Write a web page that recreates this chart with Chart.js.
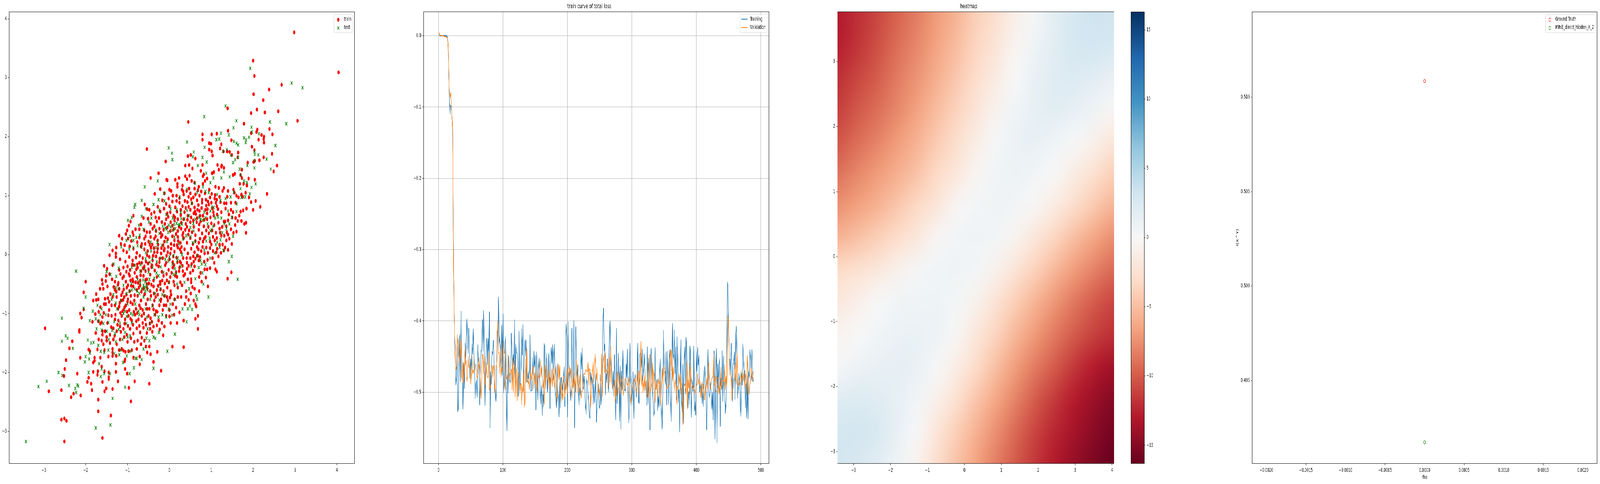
<!DOCTYPE html>
<html lang="en">

<head>
    <meta charset="utf-8" />
    <script src="https://cdn.jsdelivr.net/npm/chart.js@4.4.1/dist/chart.umd.js"></script>
    <style>
        html, body { margin: 0; background: #fff; overflow: hidden; }
        #sheet { position: absolute; left: 0; top: 0; width: 7028px; height: 1238px; transform-origin: 0 0; }
        canvas { position: absolute; top: 0; }
    </style>
</head>

<body>
    <div id="sheet">
        <canvas id="scatterChart"></canvas>
        <canvas id="lossChart"></canvas>
        <canvas id="heatChart"></canvas>
        <canvas id="colorbarChart"></canvas>
        <canvas id="miChart"></canvas>
    </div>

    <script>
        // scatter panel
        const trainPoints = [
            [2.98,3.77],[4.04,3.09],[2.0,3.29],[2.03,3.03],[2.68,2.88],[2.38,2.8],[2.01,2.72],[2.24,2.62],[1.39,2.48],[2.09,2.46],[1.95,2.4],[2.28,2.41],[2.6,2.43],[3.06,2.27],[0.45,2.25],[1.78,2.22],
            [2.39,2.13],[2.1,2.12],[1.4,2.1],[1.95,2.06],[2.08,2.08],[2.2,2.03],[2.26,2.0],[2.46,2.04],[1.13,2.05],[1.01,2.04],[0.79,2.04],[0.79,1.95],[2.13,1.95],[2.25,1.96],[1.48,1.94],[0.95,1.89],
            [0.99,1.88],[1.24,1.87],[2.26,1.9],[1.97,1.83],[-0.54,1.79],[1.21,1.8],[0.95,1.78],[2.03,1.77],[1.01,1.75],[1.29,1.75],[1.38,1.75],[1.64,1.73],[1.44,1.74],[2.45,1.71],[0.51,1.69],[0.44,1.67],
            [1.03,1.68],[1.49,1.69],[1.63,1.65],[2.25,1.65],[2.04,1.59],[2.01,1.57],[2.15,1.6],[-0.09,1.58],[1.87,1.56],[0.62,1.63],[2.57,1.51],[2.49,1.41],[0.79,1.52],[0.38,1.51],[0.47,1.52],[1.15,1.52],
            [1.25,1.51],[-0.45,1.3],[-0.26,1.38],[-0.07,1.27],[0.14,1.27],[0.23,1.3],[2.33,1.03],[2.06,0.91],[1.95,0.89],[2.0,0.76],[2.17,0.81],[1.84,0.78],[2.04,1.27],[1.89,1.29],[0.75,1.42],[1.02,1.38],
            [0.38,1.33],[0.42,1.28],[1.06,1.4],[1.18,1.44],[1.3,1.47],[1.24,1.49],[0.31,1.17],[0.53,1.25],[0.6,1.22],[0.8,1.33],[0.85,1.25],[1.52,1.35],[1.56,1.37],[1.7,1.35],[1.73,1.44],[1.73,1.3],
            [0.55,1.46],[0.82,1.36],[0.48,1.34],[0.9,1.29],[-0.05,1.26],[0.19,1.2],[0.19,1.15],[0.3,1.1],[0.41,1.08],[0.47,1.12],[0.6,1.12],[0.7,1.15],[0.8,1.2],[0.95,1.1],[1.1,1.15],[1.18,1.13],
            [1.3,1.13],[1.4,1.08],[1.53,1.1],[1.6,1.0],[1.75,0.98],[1.82,1.05],[1.85,1.17],[1.77,1.2],[1.68,1.2],[0.0,1.1],[0.04,1.08],[-0.22,1.11],[-0.12,1.04],[0.08,1.0],[0.17,1.0],[0.24,0.96],
            [0.34,1.02],[0.46,0.98],[0.5,1.04],[0.52,0.94],[0.62,1.02],[0.72,1.0],[0.66,0.92],[0.78,0.93],[0.85,1.04],[0.92,0.9],[1.0,0.88],[1.08,0.95],[1.2,0.98],[1.27,1.08],[1.38,0.98],[1.47,0.88],
            [1.55,1.05],[1.65,0.97],[1.72,1.02],[1.9,0.97],[-0.02,0.95],[-0.08,0.86],[0.0,0.82],[0.07,0.9],[0.14,0.8],[0.24,0.88],[0.31,0.82],[0.39,0.79],[0.46,0.81],[0.54,0.87],[0.6,0.8],[0.69,0.84],
            [0.78,0.88],[0.86,0.76],[0.94,0.85],[1.03,0.78],[1.13,0.82],[1.22,0.89],[1.34,0.78],[1.42,0.68],[1.52,0.72],[1.58,0.88],[1.7,0.73],[1.76,0.75],[-0.22,0.73],[-0.13,0.78],[-0.05,0.7],[0.02,0.72],
            [0.1,0.66],[0.18,0.73],[0.27,0.67],[0.36,0.72],[0.44,0.66],[0.5,0.76],[0.58,0.7],[0.66,0.62],[0.72,0.74],[0.8,0.66],[0.9,0.7],[0.98,0.63],[1.05,0.72],[1.14,0.68],[1.24,0.72],[1.33,0.56],
            [1.4,0.58],[1.5,0.63],[1.58,0.62],[1.6,0.39],[1.72,0.57],[1.79,0.52],[1.83,0.54],[1.83,0.37],[1.57,0.5],[-0.53,0.77],[-0.3,0.56],[-0.25,0.62],[-0.18,0.55],[-0.08,0.6],[0.03,0.55],[0.12,0.58],
            [0.2,0.6],[0.28,0.54],[0.34,0.6],[0.42,0.47],[0.5,0.55],[0.58,0.47],[0.65,0.55],[0.74,0.56],[0.82,0.48],[0.9,0.6],[1.0,0.53],[1.07,0.5],[1.17,0.54],[1.2,0.44],[1.3,0.56],[1.36,0.48],
            [-0.86,0.66],[-0.59,0.85],[-0.35,1.03],[-0.97,0.49],[-1.04,0.35],[-1.01,0.41],[-0.72,0.43],[-0.6,0.41],[-0.54,0.38],[-0.45,0.52],[-0.4,0.44],[-0.32,0.4],[-0.24,0.44],[-0.14,0.42],[-0.05,0.46],[0.02,0.4],
            [0.1,0.43],[0.2,0.4],[0.28,0.44],[0.38,0.42],[0.45,0.34],[0.54,0.38],[0.62,0.33],[0.7,0.42],[0.78,0.36],[0.86,0.3],[0.94,0.36],[1.04,0.3],[1.13,0.28],[1.24,0.32],[1.31,0.32],[1.36,0.24],
            [1.4,0.34],[1.49,0.18],[-1.2,0.32],[-0.86,0.33],[-0.72,0.29],[-0.6,0.27],[-0.5,0.22],[-0.45,0.3],[-0.36,0.27],[-0.28,0.24],[-0.2,0.3],[-0.12,0.22],[-0.04,0.26],[0.04,0.18],[0.12,0.24],[0.2,0.3],
            [0.26,0.2],[0.34,0.28],[0.42,0.2],[0.5,0.28],[0.56,0.18],[0.62,0.23],[0.7,0.2],[0.8,0.22],[0.88,0.12],[1.0,0.17],[1.14,0.1],[1.2,0.17],[1.3,0.07],[1.4,0.08],[-1.07,0.16],[-1.16,0.18],
            [-1.28,0.02],[-1.28,-0.04],[-1.43,-0.01],[-1.1,0.07],[-1.02,0.04],[-0.95,0.14],[-0.86,0.1],[-0.78,0.03],[-0.68,0.14],[-0.6,0.09],[-0.52,0.06],[-0.44,0.12],[-0.36,0.04],[-0.28,0.1],[-0.2,0.02],[-0.12,0.1],
            [-0.04,0.04],[0.04,0.1],[0.12,0.05],[0.2,0.12],[0.28,0.04],[0.36,0.09],[0.44,0.02],[0.52,0.1],[0.6,0.04],[0.68,-0.02],[0.76,0.06],[0.84,0.02],[0.92,0.03],[1.04,0.06],[1.12,0.04],[-1.56,-0.19],
            [-1.49,-0.24],[-1.43,-0.33],[-1.18,-0.08],[-1.05,-0.12],[-0.96,-0.04],[-0.88,-0.1],[-0.8,-0.05],[-0.72,-0.14],[-0.64,-0.06],[-0.56,-0.12],[-0.48,-0.04],[-0.4,-0.1],[-0.32,-0.03],[-0.24,-0.13],[-0.16,-0.06],[-0.08,-0.14],
            [0.0,-0.08],[0.08,-0.13],[0.17,-0.05],[0.25,-0.12],[0.33,-0.06],[0.42,-0.14],[0.5,-0.06],[0.58,-0.12],[0.66,-0.02],[0.7,-0.1],[1.1,-0.25],[1.13,-0.29],[0.84,-0.25],[0.9,-0.25],[0.56,-0.27],[0.74,-0.31],
            [-1.2,-0.26],[-1.1,-0.22],[-1.0,-0.2],[-0.94,-0.26],[-0.85,-0.18],[-0.76,-0.22],[-0.68,-0.28],[-0.6,-0.2],[-0.5,-0.25],[-0.42,-0.18],[-0.35,-0.27],[-0.26,-0.2],[-0.18,-0.29],[-0.1,-0.18],[-0.02,-0.26],[0.08,-0.22],
            [0.16,-0.3],[0.24,-0.22],[0.32,-0.28],[0.42,-0.24],[0.5,-0.31],[0.6,-0.2],[-2.0,-0.46],[-1.37,-0.42],[-1.3,-0.46],[-1.22,-0.48],[-1.12,-0.4],[-1.04,-0.46],[-0.95,-0.36],[-0.88,-0.42],[-0.78,-0.38],[-0.7,-0.44],
            [-0.62,-0.36],[-0.54,-0.42],[-0.46,-0.34],[-0.38,-0.44],[-0.3,-0.38],[-0.22,-0.46],[-0.14,-0.36],[-0.06,-0.44],[0.02,-0.38],[0.1,-0.46],[0.18,-0.38],[0.26,-0.47],[0.34,-0.36],[0.44,-0.42],[0.52,-0.42],[0.92,-0.54],
            [0.87,-0.39],[1.39,-0.41],[1.48,-0.3],[0.55,-0.55],[0.6,-0.58],[0.4,-0.62],[-1.6,-0.5],[-1.52,-0.45],[-1.48,-0.54],[-1.58,-0.58],[-1.3,-0.6],[-1.2,-0.58],[-1.12,-0.64],[-1.02,-0.56],[-0.95,-0.62],[-0.86,-0.54],
            [-0.78,-0.6],[-0.7,-0.52],[-0.62,-0.58],[-0.54,-0.5],[-0.46,-0.62],[-0.38,-0.54],[-0.3,-0.6],[-0.22,-0.5],[-0.14,-0.62],[-0.05,-0.56],[0.03,-0.62],[0.12,-0.52],[0.2,-0.56],[0.3,-0.52],[-2.05,-0.64],[-1.75,-0.67],
            [-1.75,-0.77],[-1.7,-0.76],[-1.82,-0.78],[-1.54,-0.75],[-1.44,-0.8],[-1.36,-0.72],[-1.26,-0.72],[-1.16,-0.78],[-1.08,-0.72],[-1.0,-0.8],[-0.92,-0.7],[-0.84,-0.78],[-0.76,-0.7],[-0.68,-0.78],[-0.6,-0.68],[-0.52,-0.76],
            [-0.44,-0.7],[-0.36,-0.78],[-0.28,-0.68],[-0.2,-0.76],[-0.12,-0.7],[-0.04,-0.78],[0.04,-0.68],[0.12,-0.76],[0.2,-0.72],[0.28,-0.72],[0.4,-0.72],[0.58,-0.78],[0.62,-0.84],[0.64,-0.88],[-2.05,-0.93],[-1.65,-0.89],
            [-1.56,-0.84],[-1.52,-0.84],[-1.44,-0.94],[-1.3,-0.86],[-1.2,-0.88],[-1.12,-0.96],[-1.04,-0.86],[-0.96,-0.94],[-0.88,-0.84],[-0.8,-0.92],[-0.72,-0.86],[-0.64,-0.94],[-0.56,-0.84],[-0.48,-0.92],[-0.4,-0.86],[-0.32,-0.96],
            [-0.24,-0.86],[-0.16,-0.94],[-0.08,-0.86],[0.0,-0.94],[0.08,-0.84],[0.16,-0.9],[-2.13,-1.0],[-2.1,-1.07],[-1.6,-1.06],[-1.62,-1.15],[-1.7,-1.13],[-1.65,-1.17],[-1.48,-1.16],[-1.38,-1.04],[-1.3,-1.1],[-1.22,-1.12],
            [-1.14,-1.04],[-1.06,-1.1],[-0.98,-1.04],[-0.9,-1.12],[-0.82,-1.02],[-0.74,-1.1],[-0.66,-1.04],[-0.58,-1.1],[-0.5,-1.04],[-0.42,-1.14],[-0.34,-1.02],[-0.26,-1.12],[-0.18,-1.16],[-0.08,-1.04],[0.0,-1.05],[0.03,-1.16],
            [0.18,-1.16],[0.34,-1.12],[0.68,-1.04],[0.62,-1.09],[0.68,-1.26],[-2.15,-1.28],[-2.15,-1.31],[-1.6,-1.3],[-1.6,-1.36],[-1.54,-1.3],[-1.5,-1.4],[-1.42,-1.36],[-1.34,-1.25],[-1.26,-1.3],[-1.18,-1.22],[-1.1,-1.26],
            [-1.02,-1.36],[-0.94,-1.26],[-0.86,-1.34],[-0.78,-1.25],[-0.7,-1.32],[-0.62,-1.24],[-0.54,-1.33],[-0.46,-1.26],[-0.38,-1.22],[-0.3,-1.2],[-0.15,-1.37],[-1.62,-1.46],[-1.58,-1.52],[-1.5,-1.46],[-1.42,-1.5],[-1.34,-1.44],
            [-1.26,-1.52],[-1.18,-1.44],[-1.08,-1.4],[-1.0,-1.48],[-0.92,-1.42],[-0.84,-1.48],[-0.76,-1.46],[-0.68,-1.52],[-0.6,-1.46],[-1.93,-1.61],[-1.9,-1.64],[-1.55,-1.62],[-1.36,-1.6],[-1.36,-1.66],[-1.36,-1.72],[-1.2,-1.62],
            [-1.14,-1.6],[-1.1,-1.63],[-1.05,-1.65],[-0.98,-1.64],[-0.9,-1.62],[-0.78,-1.6],[-0.56,-1.56],[-0.48,-1.56],[-0.53,-1.66],[-0.45,-1.69],[-0.29,-1.65],[-0.71,-1.73],[0.07,-1.56],[0.34,-1.57],[-2.97,-1.25],[-2.88,-2.32],
            [-2.58,-2.3],[-2.58,-2.8],[-2.51,-2.78],[-2.46,-2.82],[-2.51,-3.17],[-2.35,-2.42],[-2.29,-2.36],[-2.12,-2.39],[-2.52,-2.06],[-2.5,-1.94],[-2.47,-1.79],[-2.39,-1.59],[-2.32,-1.47],[-2.2,-2.02],[-2.13,-1.75],[-1.96,-2.16],
            [-1.93,-2.09],[-1.87,-2.19],[-1.85,-2.3],[-1.7,-2.46],[-1.7,-2.66],[-1.4,-2.73],[-1.6,-3.11],[-0.92,-2.49],[-0.48,-2.19],[-0.2,-1.97],[-0.83,-2.15],[-0.97,-2.26],[-1.23,-2.15],[-1.36,-2.28],[-1.55,-2.32],[-1.51,-2.27],
            [-1.6,-2.16],[-1.45,-2.11],[-1.45,-2.08],[-1.45,-2.0],[-1.55,-1.98],[-1.72,-2.04],[-1.71,-1.98],[-1.82,-1.99],[-1.62,-1.9],[-1.82,-1.83],[-1.79,-1.75],[-1.79,-1.8],[-1.65,-1.75],[-1.28,-1.85],[-1.28,-1.99],[-1.06,-1.94],
            [-1.01,-2.02],[-1.06,-1.78],[-1.07,-1.81],[-0.71,-1.86],[-0.86,-1.75],[-0.38,-1.82],
            // denser middle of the cloud
            [-0.13,0.07],[0.07,0.31],[0.33,0.37],[0.52,0.63],[0.71,0.51],[0.91,0.77],[0.23,0.47],[-0.31,-0.17],[-0.57,-0.43],[-0.83,-0.69],[-0.93,-0.81],[-1.07,-0.89],[-0.41,0.17],[-0.17,0.33],[0.13,0.63],[0.37,0.91],
            [0.63,0.69],[0.87,0.93],[1.09,1.01],[0.29,0.13],[0.47,0.41],[0.77,0.79],[0.11,0.16],[0.16,0.35],[0.21,0.23],[0.31,0.33],[0.39,0.52],[0.43,0.59],[0.57,0.58],[0.61,0.73],[0.67,0.76],[0.73,0.66],
            [0.83,0.59],[0.88,0.83],[0.97,0.97],[1.11,0.88],[-0.03,0.13],[-0.09,0.29],[-0.19,0.11],[-0.27,0.17],[-0.33,0.31],[-0.39,-0.02],[-0.47,0.17],[-0.53,-0.01],[-0.58,0.18],[-0.66,-0.14],[-0.71,-0.02],[-0.77,-0.17],
            [-0.83,-0.31],[-0.89,-0.17],[-0.97,-0.33],[-1.03,-0.29],[-1.09,-0.37],[-1.17,-0.33],[-1.23,-0.51],[-1.27,-0.63],[-1.33,-0.55],[-1.41,-0.67],[-1.47,-0.74],[-1.38,-0.86],[-1.11,-0.77],[-1.03,-0.68],[-0.99,-0.76],[-0.91,-0.53],
            [-0.81,-0.47],[-0.73,-0.56],[-0.67,-0.63],[-0.59,-0.67],[-0.53,-0.57],[-0.49,-0.49],[-0.43,-0.51],[-0.37,-0.66],[-0.33,-0.72],[-0.27,-0.53],[-0.21,-0.59],[-0.17,-0.44],[-0.11,-0.49],[-0.07,-0.33],[-0.01,-0.47],[0.05,-0.31],
            [0.11,-0.18],[0.14,-0.36],[0.19,-0.13],[0.23,-0.28],[0.27,-0.14],[0.31,-0.19],[0.37,-0.33],[0.41,-0.06],[0.46,-0.19],[0.53,-0.16],[0.57,-0.03],[0.62,-0.07],[0.69,0.09],[0.73,-0.04],[0.79,0.13],[0.83,0.27],
            [0.88,0.41],[0.93,0.47],[0.97,0.11],[1.02,0.41],[1.06,0.66],[1.11,0.37],[1.16,0.77],[1.26,0.47],[0.18,0.16],[0.25,0.09],[0.09,-0.03],[0.02,0.02],[-0.07,-0.02],[-0.15,0.16],[-0.23,-0.07],[-0.29,0.04],
            [-0.37,0.11],[-0.43,-0.21],[-0.51,-0.15],[-0.57,-0.28],[-0.63,-0.23],[-0.69,-0.35],[-0.75,-0.48],[-0.79,-0.25],[-0.87,-0.46],[-0.93,-0.44],[-0.99,-0.52],[-1.09,-0.59],[-1.15,-0.69],[-1.19,-0.82],[-1.23,-0.92],[-1.29,-1.02],
            [-1.17,-0.99],[-1.09,-0.93],[-1.01,-0.97],[-0.93,-1.09],[-0.85,-0.97],[-0.77,-0.99],[-0.69,-0.91],[-0.61,-1.0],[-0.53,-0.92],[-0.45,-1.08],[-0.38,-0.93],[-0.29,-0.97],[-0.21,-0.79],[-0.13,-0.86],[-0.06,-0.72],[0.01,-0.73],
            [-0.99,-1.21],[-1.07,-1.17],[-1.16,-1.31],[-1.24,-1.19],[-1.31,-1.38],[-1.39,-1.23],[-0.87,-1.19],[-0.79,-1.13],[-0.72,-1.21],[-0.64,-1.16],[-0.56,-1.19],[-0.47,-1.17],[0.17,0.91],[0.27,0.76],[0.33,1.07],[0.43,0.89],
            [0.57,0.97],[0.68,1.09],[0.76,1.07],[1.01,1.03],[1.13,0.93],[1.31,0.87],[0.07,0.49],[-0.03,0.64],[-0.11,0.52],[-0.21,0.37],[-0.36,0.48],[-0.47,0.38],[-0.57,0.31],[-0.66,0.18],[-0.77,0.21],[-0.91,0.23],
            // both flanks of the cloud
            [0.52,-0.47],[0.71,-0.38],[0.77,-0.46],[0.83,-0.12],[0.91,-0.09],[0.97,-0.23],[1.03,-0.06],[1.07,-0.14],[1.17,-0.03],[1.23,0.03],[1.27,0.17],[1.33,0.12],[1.37,0.38],[1.43,0.27],[1.47,0.43],[1.53,0.37],
            [1.63,0.57],[1.67,0.66],[1.47,0.76],[1.36,0.87],[1.21,0.37],[0.73,0.27],[0.97,0.22],[0.66,0.13],[1.08,0.24],[-1.13,0.27],[-1.27,0.12],[-1.36,0.07],[-0.99,0.27],[-0.88,0.38],[-0.81,0.43],[-0.93,0.56],
            [-0.68,0.51],[-0.62,0.62],[-0.51,0.61],[-0.43,0.69],[-0.36,0.72],[-0.28,0.81],[-0.17,0.92],[-0.33,0.63],[-0.48,0.76],[-1.51,-0.36],[-1.36,-0.18],[-1.61,-0.43],[-1.66,-0.58],[-1.69,-0.97],[-1.77,-1.01],[-1.46,-1.03],
            [-1.57,-0.99],[-1.84,-1.14],[-1.76,-1.33],[-1.69,-1.44],[-1.72,-1.61],[-1.46,-1.73],[-1.27,-1.72],[-0.66,-1.41],[-0.41,-1.31],[-0.23,-1.27],[-0.12,-1.22],[0.11,-1.02],[0.24,-0.98],[0.37,-0.84],[0.46,-0.77],[0.51,-0.66],[0.71,-0.62]
        ];
        const testPoints = [
            [-3.43,-3.17],[-3.13,-2.24],[-2.93,-2.15],[-2.65,-2.0],[-2.56,-2.05],[-2.4,-2.22],[-2.25,-2.27],[-2.23,-2.34],[-2.2,-2.21],[-2.18,-2.23],[-2.57,-1.08],[-2.48,-1.38],[-2.43,-1.42],[-2.57,-1.47],[-2.31,-1.59],[-2.23,-0.28],
            [-2.05,-0.91],[-2.0,-0.72],[-1.9,-1.12],[-1.95,-1.45],[-1.87,-1.5],[-1.81,-1.49],[-2.0,-1.73],[-1.92,-1.77],[-2.02,-1.82],[-1.9,-1.67],[-1.93,-2.0],[-1.76,-2.94],[-1.41,-2.89],[-1.36,-2.44],[-1.06,-2.25],[-0.95,-2.02],
            [-1.42,-2.02],[-1.64,-2.07],[-1.56,-2.02],[-1.62,-1.94],[-1.68,-1.85],[-0.85,-1.92],[-0.81,-1.76],[-0.38,-1.93],[-0.05,-1.64],[0.13,-1.35],[0.41,-1.14],[1.93,3.16],[2.92,2.91],[3.18,2.83],[1.34,2.52],[0.83,2.34],
            [1.6,2.27],[2.4,2.25],[2.79,2.22],[1.53,2.15],[1.96,2.16],[1.97,2.08],[1.23,2.06],[2.14,2.05],[1.42,2.03],[1.78,1.98],[1.83,1.95],[1.9,1.99],[1.12,1.95],[1.19,1.96],[1.82,1.9],[2.53,1.85],
            [1.54,1.92],[1.6,1.89],[1.64,1.86],[0.42,1.91],[-0.02,1.81],[0.06,1.72],[0.07,1.61],[0.58,1.74],[0.84,1.82],[2.03,1.75],[2.04,1.7],[2.12,1.69],[2.32,1.62],[2.03,1.59],[2.03,1.47],[2.42,1.45],
            [2.06,1.2],[1.96,1.14],[1.86,1.51],[1.68,1.45],[1.64,1.65],[1.57,1.61],[1.52,1.56],[1.47,1.68],[1.28,1.75],[1.37,1.78],[0.79,1.65],[0.56,1.66],[0.89,1.57],[0.68,1.51],[-0.59,1.15],[-0.28,1.25],
            [-0.38,0.85],[-0.82,0.85],[-0.84,0.8],[-0.66,0.92],[-0.66,0.65],[-0.9,0.63],[-0.99,0.58],[-0.56,0.78],[-0.73,0.5],[-0.79,0.29],[-1.43,0.17],[-1.21,-0.23],[-1.5,-0.29],[-1.15,0.13],[-0.13,1.04],[-0.26,0.93],
            [1.63,-0.42],[1.42,-0.12],[1.49,-0.03],[1.29,0.07],[1.52,0.31],[0.93,-0.72],[0.81,-0.5],[0.64,-0.7],[0.66,-0.76],[0.49,-0.87],[0.54,-0.93],[0.44,-0.92],[0.31,-0.92],[1.49,0.63],[1.4,0.74],[1.24,1.3],
            [1.3,1.4],[1.05,1.3],[0.98,1.22],[0.88,1.38],[0.8,1.15],[0.66,1.05],[0.94,1.05],[1.14,1.02],[1.22,0.92],[1.06,0.8],[0.98,0.74],[1.16,0.64],[1.24,0.62],[1.34,0.95],[1.46,0.98],[1.54,1.06],
            [1.7,1.12],[1.78,1.25],[1.85,1.22],[1.7,1.35],[1.44,1.32],[0.53,0.87],[0.42,0.75],[0.27,0.72],[0.17,0.76],[0.08,0.62],[-0.08,0.68],[-0.24,0.76],[-0.1,0.45],[-0.16,0.48],[-0.24,0.36],[-0.02,0.5],
            [0.14,0.44],[0.22,0.5],[0.3,0.52],[0.4,0.32],[0.5,0.46],[0.58,0.4],[0.62,0.6],[0.74,0.6],[0.83,0.72],[0.98,0.4],[1.0,0.42],[0.96,0.28],[1.04,0.48],[1.22,0.25],[1.2,0.12],[1.08,0.03],
            [0.56,0.2],[0.62,0.22],[0.66,-0.02],[0.74,-0.1],[0.7,-0.22],[0.5,0.3],[0.32,0.26],[0.22,0.18],[0.12,0.3],[-0.06,0.22],[-0.18,0.16],[-0.32,0.12],[-0.44,0.06],[-0.56,0.03],[-0.66,0.12],[-0.76,0.15],
            [-0.86,0.12],[-0.96,0.09],[-0.82,-0.18],[-0.9,-0.22],[-0.7,-0.28],[-0.6,-0.25],[-0.5,-0.3],[-0.4,-0.22],[-0.3,-0.12],[-0.2,-0.06],[-0.1,-0.08],[0.0,-0.04],[0.1,-0.02],[0.2,-0.06],[0.3,0.0],[0.26,-0.2],
            [0.16,-0.32],[0.1,-0.34],[-0.14,-0.3],[-0.26,-0.36],[-0.36,-0.4],[-0.48,-0.42],[-0.58,-0.46],[-0.62,-0.52],[-0.56,-0.55],[-0.52,-0.6],[-0.6,-0.56],[-0.7,-0.48],[-0.76,-0.42],[-0.9,-0.6],[-0.96,-0.62],[-1.02,-0.66],
            [-1.1,-0.52],[-1.22,-0.58],[-1.28,-0.56],[-1.34,-0.68],[-1.38,-0.76],[-1.28,-0.82],[-1.15,-0.78],[-1.25,-0.92],[-1.06,-0.96],[-1.0,-0.84],[-0.92,-1.0],[-0.82,-0.84],[-0.72,-0.66],[-0.62,-0.72],[-0.46,-0.76],[-0.34,-0.66],
            [-0.22,-0.58],[-0.1,-0.7],[0.02,-0.84],[-0.08,-1.06],[0.06,-1.03],[-0.26,-1.06],[-0.36,-1.02],[-0.46,-1.16],[-0.54,-1.06],[-0.72,-1.02],[-0.9,-1.16],[-1.02,-1.05],[-1.1,-1.0],[-1.18,-1.16],[-1.32,-1.14],[-1.46,-1.15],
            [-1.52,-1.02],[-1.62,-0.92],[-1.72,-0.86],[-1.65,-1.02],[-1.74,-1.26],[-1.62,-1.28],[-1.5,-1.3],[-1.3,-1.34],[-1.06,-1.32],[-0.94,-1.38],[-1.0,-1.4],[-1.12,-1.44],[-1.28,-1.48],[-1.45,-1.44],[-1.7,-1.54],[-1.64,-1.64],
            [-1.56,-1.66],[-1.2,-1.7],[-1.17,-1.62],[-1.02,-1.72],[-0.94,-1.64],[-0.78,-1.76],[-0.62,-1.6],[-0.55,-1.42],[-0.48,-1.46],[-0.38,-1.4],[-0.34,-1.42],[-0.25,-1.32],
            // denser middle of the cloud
            [-0.07,0.43],[0.03,0.47],[0.11,0.51],[0.17,0.53],[0.24,0.51],[0.07,0.41],[-0.03,0.38],[-0.29,0.21],[-0.41,-0.07],[-0.47,-0.13],[-0.31,-0.31],[-0.21,-0.21],[-0.03,-0.11],[0.07,-0.16],[0.13,-0.24],[0.19,-0.11],
            [-0.53,-0.51],[-0.58,-0.62],[-0.66,-0.58],[-0.63,-0.43],[-0.77,-0.62],[-0.83,-0.58],[-0.91,-0.49],[-0.69,-0.17],[-0.57,-0.07],[-0.45,0.21],[-0.33,0.42],[0.71,0.63],[0.79,0.58],[0.86,0.62],[0.91,0.52],[0.57,0.53],
            [0.47,0.66],[0.36,0.61],[0.28,0.61],[0.03,0.78],[-0.12,0.91],[0.24,0.98],[0.42,1.11],[0.61,1.21],[0.86,1.07],[1.01,0.81],[1.09,0.62],[1.14,0.21],[0.83,0.08],[0.77,-0.16],[0.52,-0.2],[0.36,-0.47],
            [0.18,-0.5],[-0.02,-0.47],[-0.17,-0.68],[-0.24,-0.77],[-0.41,-0.87],[-0.57,-0.92],[-0.74,-0.96],[-0.87,-1.02],[-1.03,-1.17],[-1.21,-1.27],[-1.37,-1.28],
            // both flanks of the cloud
            [1.26,0.37],[1.31,0.52],[1.11,0.17],[0.97,-0.06],[0.86,-0.17],[0.79,-0.31],[0.62,-0.41],[0.47,-0.58],[0.88,0.23],[1.36,0.44],[1.43,0.52],[1.61,0.86],[1.72,0.97],[1.81,0.98],[1.92,1.03],[1.6,0.73],
            [-1.03,0.24],[-0.94,0.31],[-0.86,0.24],[-1.33,-0.16],[-1.41,-0.34],[-1.27,-0.37],[-0.71,0.33],[-0.62,0.43],[-0.49,0.55],[-0.43,0.62],[-1.76,-1.09],[-1.83,-0.96],[-1.68,-1.13],[-1.58,-1.17],[-0.17,-1.02],[-0.02,-0.92],
            [0.14,-0.76],[-1.46,-1.62],[-1.32,-1.68],[-1.11,-1.83],[-0.66,-1.78],[-0.52,-1.26]
        ];
        const scatterXTicks = [-3, -2, -1, 0, 1, 2, 3, 4];
        const scatterYTicks = [-3, -2, -1, 0, 1, 2, 3, 4];

        // loss curves, epoch 1 to 488
        const trainingLoss = [
            .003,0,0,0,0,0,0,0,.001,-.001,.001,-.001,0,-.002,-.015,-.05,-.094,-.108,-.098,-.099,-.116,-.131,-.29,-.375,
            -.420,-.443,-.490,-.476,-.435,-.526,-.523,-.425,-.420,-.485,-.386,-.476,-.485,-.524,-.459,-.495,-.431,-.458,-.429,-.397,-.427,-.445,-.410,-.445,-.481,-.453,
            -.469,-.432,-.447,-.411,-.449,-.478,-.509,-.488,-.483,-.507,-.433,-.454,-.464,-.518,-.474,-.445,-.437,-.398,-.442,-.385,-.438,-.519,-.456,-.447,-.424,
            -.462,-.424,-.443,-.387,-.550,-.471,-.489,-.443,-.446,-.427,-.451,-.487,-.502,-.513,-.484,-.414,-.412,-.366,-.431,-.423,-.436,-.474,-.406,-.476,-.390,
            -.501,-.490,-.431,-.425,-.500,-.554,-.466,-.502,-.449,-.483,-.486,-.480,-.417,-.440,-.482,-.447,-.462,-.398,-.480,-.436,-.443,-.446,-.461,-.506,-.414,
            -.498,-.484,-.467,-.411,-.448,-.405,-.498,-.453,-.427,-.449,-.426,-.485,-.485,-.473,-.484,-.469,-.419,-.498,-.498,-.497,-.451,-.476,-.442,-.465,-.448,
            -.525,-.443,-.460,-.511,-.469,-.452,-.480,-.509,-.516,-.490,-.533,-.503,-.521,-.433,-.436,-.480,-.460,-.446,-.500,-.489,-.445,-.464,-.523,-.460,-.437,
            -.460,-.433,-.483,-.445,-.432,-.497,-.509,-.522,-.460,-.495,-.511,-.535,-.485,-.522,-.480,-.479,-.500,-.487,-.480,-.464,-.520,-.465,-.404,-.423,-.535,
            -.401,-.462,-.483,-.493,-.512,-.496,-.410,-.494,-.484,-.399,-.550,-.484,-.408,-.464,-.480,-.461,-.500,-.518,-.493,-.504,-.444,-.468,-.438,-.491,-.496,
            -.477,-.498,-.520,-.528,-.482,-.488,-.502,-.518,-.534,-.536,-.472,-.487,-.476,-.484,-.517,-.488,-.515,-.502,-.474,-.542,-.517,-.500,-.488,-.520,-.522,
            -.475,-.518,-.502,-.465,-.399,-.382,-.443,-.432,-.504,-.473,-.487,-.453,-.469,-.500,-.418,-.400,-.461,-.455,-.487,-.495,-.470,-.506,-.447,-.491,-.539,
            -.410,-.516,-.465,-.445,-.487,-.541,-.463,-.552,-.470,-.497,-.441,-.482,-.495,-.497,-.498,-.460,-.480,-.439,-.495,-.543,-.528,-.431,-.476,-.495,-.518,
            -.495,-.471,-.537,-.484,-.477,-.491,-.507,-.474,-.431,-.513,-.515,-.447,-.446,-.445,-.465,-.439,-.484,-.465,-.446,-.469,-.495,-.487,-.519,-.436,-.517,
            -.452,-.484,-.553,-.449,-.438,-.485,-.495,-.517,-.532,-.528,-.437,-.495,-.496,-.482,-.526,-.505,-.521,-.473,-.453,-.511,-.537,-.552,-.496,-.413,-.462,
            -.473,-.489,-.443,-.518,-.442,-.474,-.517,-.454,-.440,-.513,-.541,-.484,-.403,-.446,-.454,-.412,-.474,-.436,-.511,-.422,-.449,-.514,-.496,-.556,-.482,
            -.426,-.513,-.528,-.460,-.544,-.455,-.436,-.503,-.423,-.434,-.507,-.522,-.499,-.517,-.435,-.446,-.535,-.491,-.484,-.499,-.435,-.527,-.517,-.532,-.443,
            -.471,-.437,-.462,-.448,-.500,-.488,-.498,-.489,-.516,-.493,-.520,-.469,-.464,-.484,-.502,-.553,-.496,-.440,-.499,-.506,-.500,-.489,-.502,-.524,-.500,
            -.539,-.442,-.443,-.566,-.473,-.438,-.571,-.460,-.494,-.460,-.455,-.548,-.480,-.496,-.441,-.513,-.449,-.484,-.507,-.530,-.513,-.491,-.346,-.349,-.416,
            -.455,-.454,-.473,-.431,-.476,-.513,-.460,-.460,-.443,-.510,-.418,-.407,-.451,-.509,-.495,-.473,-.485,-.522,-.530,-.473,-.490,-.432,-.451,-.471,-.470,
            -.522,-.488,-.536,-.476,-.538,-.472,-.477,-.440,-.453,-.484,-.440,-.471,-.485
        ];
        const validationLoss = [
            .005,.001,0,.001,0,0,0,0,-.001,-.001,-.001,-.002,-.002,-.004,-.015,-.06,-.08,-.086,-.081,-.097,-.115,-.135,-.30,-.365,
            -.427,-.453,-.468,-.464,-.421,-.428,-.448,-.457,-.428,-.452,-.425,-.478,-.485,-.457,-.487,-.473,-.437,-.461,-.456,-.484,-.477,-.450,-.464,-.466,-.465,-.488,
            -.480,-.449,-.473,-.469,-.473,-.470,-.464,-.461,-.474,-.480,-.474,-.464,-.454,-.467,-.480,-.509,-.480,-.447,-.447,-.475,-.449,-.476,-.494,-.457,-.474,
            -.479,-.479,-.443,-.496,-.492,-.493,-.478,-.462,-.479,-.464,-.462,-.501,-.484,-.463,-.464,-.449,-.400,-.445,-.445,-.474,-.439,-.479,-.466,-.470,-.453,
            -.428,-.445,-.446,-.497,-.479,-.481,-.473,-.447,-.476,-.482,-.474,-.473,-.469,-.497,-.451,-.500,-.469,-.460,-.507,-.472,-.467,-.512,-.471,-.476,-.477,
            -.499,-.488,-.488,-.518,-.494,-.499,-.470,-.520,-.516,-.453,-.487,-.438,-.480,-.488,-.483,-.494,-.482,-.471,-.480,-.482,-.464,-.466,-.495,-.472,-.489,
            -.488,-.469,-.499,-.484,-.476,-.480,-.465,-.457,-.479,-.463,-.478,-.492,-.485,-.517,-.462,-.495,-.460,-.479,-.479,-.486,-.469,-.496,-.479,-.494,-.480,
            -.467,-.492,-.468,-.479,-.494,-.476,-.463,-.502,-.510,-.480,-.460,-.483,-.462,-.503,-.492,-.511,-.499,-.511,-.477,-.491,-.507,-.485,-.497,-.467,-.502,
            -.489,-.473,-.464,-.477,-.466,-.493,-.504,-.479,-.494,-.469,-.490,-.480,-.500,-.454,-.473,-.500,-.499,-.480,-.491,-.475,-.509,-.498,-.500,-.492,-.475,
            -.474,-.475,-.470,-.468,-.471,-.471,-.458,-.490,-.467,-.468,-.521,-.497,-.480,-.470,-.457,-.487,-.460,-.450,-.469,-.480,-.469,-.485,-.499,-.497,-.507,
            -.483,-.484,-.446,-.507,-.469,-.453,-.446,-.473,-.445,-.471,-.469,-.471,-.495,-.482,-.450,-.486,-.435,-.469,-.488,-.490,-.490,-.496,-.483,-.514,-.495,
            -.505,-.471,-.505,-.495,-.494,-.472,-.502,-.487,-.483,-.478,-.496,-.504,-.496,-.482,-.481,-.482,-.488,-.489,-.491,-.480,-.485,-.506,-.516,-.500,-.499,
            -.491,-.485,-.485,-.481,-.481,-.498,-.500,-.486,-.471,-.505,-.470,-.487,-.482,-.428,-.491,-.476,-.497,-.486,-.499,-.476,-.493,-.487,-.503,-.506,-.459,
            -.491,-.508,-.447,-.499,-.495,-.486,-.459,-.497,-.471,-.477,-.515,-.484,-.495,-.489,-.507,-.481,-.488,-.485,-.519,-.509,-.482,-.466,-.488,-.470,-.464,
            -.469,-.474,-.483,-.495,-.494,-.492,-.490,-.490,-.451,-.440,-.470,-.441,-.484,-.464,-.486,-.496,-.486,-.483,-.503,-.517,-.492,-.495,-.477,-.487,-.475,
            -.503,-.487,-.491,-.546,-.496,-.490,-.488,-.493,-.499,-.457,-.524,-.482,-.494,-.459,-.503,-.464,-.482,-.488,-.494,-.495,-.490,-.496,-.498,-.501,-.492,
            -.488,-.474,-.488,-.482,-.487,-.486,-.508,-.492,-.487,-.498,-.490,-.510,-.510,-.491,-.493,-.483,-.499,-.473,-.458,-.474,-.496,-.494,-.485,-.481,-.478,
            -.478,-.446,-.491,-.477,-.498,-.500,-.478,-.480,-.479,-.503,-.491,-.491,-.465,-.495,-.492,-.483,-.484,-.485,-.461,-.497,-.477,-.492,-.429,-.392,-.403,
            -.461,-.475,-.474,-.480,-.511,-.497,-.494,-.484,-.480,-.458,-.482,-.488,-.445,-.489,-.491,-.489,-.484,-.490,-.473,-.484,-.477,-.477,-.484,-.469,-.493,
            -.477,-.474,-.503,-.448,-.473,-.487,-.500,-.489,-.485,-.465,-.478,-.483,-.471
        ];
        const lossXTicks = [0, 100, 200, 300, 400, 500];
        const lossYTicks = [-0.5, -0.4, -0.3, -0.2, -0.1, 0];

        // heatmap samples, rows from top to bottom
        const heatX = [-3.44, -2.905, -2.37, -1.835, -1.3, -0.765, -0.23, 0.305, 0.84, 1.375, 1.91, 2.445, 2.98, 3.515, 4.05];
        const heatY = [3.77, 3.274, 2.777, 2.281, 1.784, 1.288, 0.791, 0.295, -0.201, -0.698, -1.194, -1.691, -2.187, -2.684, -3.18];
        const heatValues = [
            [-13, -12, -11, -9.7, -8.5, -7, -5.7, -4, -2.8, -1, .3, 1.8, 2.8, 3.3, 3.2],
            [-12.8, -11.8, -10.6, -9.2, -8, -6.6, -5.2, -3.6, -2.2, -.5, .8, 1.9, 2.8, 3, 2.8],
            [-12, -11, -10, -8.6, -7.4, -6, -4.5, -3, -1.5, 0, 1.2, 2, 2.3, 2, 1.3],
            [-11.3, -10.2, -9.2, -8, -6.7, -5.2, -3.8, -2.2, -.7, .6, 1.5, 1.9, 1.5, .8, -.2],
            [-10.3, -9.2, -8.2, -7, -5.8, -4.3, -2.9, -1.3, .2, 1, 1.3, .8, .2, -.8, -2],
            [-9, -8, -7, -6, -4.8, -3.3, -2, -.4, .6, .9, .5, -.1, -1.3, -2.6, -3.9],
            [-7.5, -6.7, -5.8, -4.6, -3.4, -2.1, -.3, .4, .7, .5, -.2, -1.4, -2.9, -4.3, -5.6],
            [-5.7, -4.9, -4, -3, -1.9, -.3, .5, .7, .5, -.5, -2, -3.5, -5, -6.4, -7.6],
            [-3.2, -2.6, -1.9, -.8, .3, .6, .7, .4, -.7, -2.2, -3.8, -5.4, -6.9, -8.2, -9.3],
            [-1.7, -1, 0, .5, .7, .8, .4, -.7, -2.3, -4, -5.6, -7.2, -8.7, -10, -11],
            [-.6, 0, .6, 1, 1.1, .9, -.2, -1.9, -3.6, -5.4, -7, -8.6, -10, -11.2, -12],
            [.2, .9, 1.2, 1.4, 1.2, .2, -1.2, -3, -4.9, -6.8, -8.5, -10, -11.6, -12.9, -13.8],
            [2, 2.2, 2, 1.5, .5, -.8, -2.5, -4.5, -6.3, -8.1, -9.9, -11.5, -12.9, -14.1, -15],
            [2.9, 3, 2.6, 1.4, .1, -2, -3.9, -5.7, -7.5, -9.3, -11, -12.4, -13.6, -14.8, -15.7],
            [3, 2.7, 2, .8, -.6, -2.8, -4.7, -6.5, -8.3, -10, -11.6, -13, -14.3, -15.4, -16.3]
        ];
        const heatXTicks = [-3, -2, -1, 0, 1, 2, 3, 4];
        const heatYTicks = [-3, -2, -1, 0, 1, 2, 3];
        const colorbarTicks = [-15, -10, -5, 0, 5, 10, 15];
        const colorbarLimit = 16.3;
        const rdBu = ['#67001f', '#b2182b', '#d6604d', '#f4a582', '#fddbc7', '#f7f7f7', '#d1e5f0', '#92c5de', '#4393c3', '#2166ac', '#053061'];

        // mutual information panel
        const rhoValues = [0];
        const groundTruth = [0.51085];
        const mineEstimate = [0.49173];
        const miXTicks = [-0.002, -0.0015, -0.001, -0.0005, 0, 0.0005, 0.001, 0.0015, 0.002];
        const miYTicks = [0.495, 0.5, 0.505, 0.51];

        const FONT = "'DejaVu Sans'";
        const BOTTOM_BOX = 53;

        // the browser window can be narrower than the 7028 wide sheet, so fit the sheet into it
        document.getElementById('sheet').style.transform =
            `scale(${window.innerWidth / 7028}, ${window.innerHeight / 1238})`;

        Chart.defaults.font.family = FONT;
        Chart.defaults.font.size = 13.9;
        Chart.defaults.color = '#000';
        Chart.defaults.devicePixelRatio = 1;
        Chart.defaults.animation = false;
        Chart.defaults.responsive = false;
        Chart.defaults.plugins.legend.display = false;
        Chart.defaults.plugins.tooltip.enabled = false;

        const minus = text => String(text).replace('-', '\u2212');

        function axis({ min, max, ticks, digits = 0, size, position, grid = false, title }) {
            return {
                type: 'linear',
                position,
                min,
                max,
                afterBuildTicks: scale => { scale.ticks = ticks.map(value => ({ value })); },
                afterFit: scale => {
                    if (scale.isHorizontal()) scale.height = size;
                    else scale.width = size;
                },
                border: { display: false },
                grid: {
                    drawOnChartArea: grid,
                    color: '#b0b0b0',
                    lineWidth: 1.1,
                    tickColor: '#000',
                    tickLength: 5,
                    tickWidth: 1
                },
                ticks: {
                    padding: 5,
                    autoSkip: false,
                    maxRotation: 0,
                    callback: value => minus(value.toFixed(digits))
                },
                title: title || { display: false }
            };
        }

        // box round the axes, drawn last
        const spines = {
            id: 'spines',
            afterDraw(chart) {
                const { ctx, chartArea: a } = chart;
                ctx.save();
                ctx.strokeStyle = '#000';
                ctx.lineWidth = 1;
                ctx.strokeRect(a.left + 0.5, a.top + 0.5, a.right - a.left, a.bottom - a.top);
                ctx.restore();
            }
        };

        // legend inside the axes, upper right, same metrics as the picture
        const insideLegend = {
            id: 'insideLegend',
            afterDraw(chart) {
                const { ctx, chartArea: a } = chart;
                const sets = chart.data.datasets.filter(d => d.label);
                ctx.save();
                ctx.font = `13.9px ${FONT}`;
                const textWidth = Math.max(...sets.map(d => ctx.measureText(d.label).width));
                const width = 44.3 + textWidth + 7;
                const height = 46;
                const left = a.right - 7 - width;
                const top = a.top + 7;
                ctx.beginPath();
                ctx.roundRect(left + 0.5, top + 0.5, width, height, 3);
                ctx.fillStyle = 'rgba(255,255,255,0.8)';
                ctx.fill();
                ctx.strokeStyle = '#d5d5d5';
                ctx.lineWidth = 1;
                ctx.stroke();
                sets.forEach((d, i) => {
                    const y = top + 12.4 + i * 21.4;
                    ctx.fillStyle = d.backgroundColor;
                    ctx.strokeStyle = d.borderColor;
                    ctx.lineWidth = d.borderWidth;
                    if (d.showLine) {
                        ctx.beginPath();
                        ctx.moveTo(left + 5.5, y);
                        ctx.lineTo(left + 33.5, y);
                        ctx.stroke();
                    } else {
                        // drawPoint fills and strokes with the styles set above
                        Chart.helpers.drawPoint(ctx, {
                            pointStyle: d.pointStyle,
                            rotation: 0,
                            radius: d.pointRadius,
                            borderWidth: d.borderWidth
                        }, left + 19.6, y + 1);
                    }
                    ctx.fillStyle = '#000';
                    ctx.textBaseline = 'middle';
                    ctx.textAlign = 'left';
                    ctx.fillText(d.label, left + 44.3, y);
                });
                ctx.restore();
            }
        };

        function rdBuColor(value) {
            const t = Math.min(Math.max((value + colorbarLimit) / (2 * colorbarLimit), 0), 1) * (rdBu.length - 1);
            const i = Math.min(Math.floor(t), rdBu.length - 2);
            const hex = c => [1, 3, 5].map(p => parseInt(c.slice(p, p + 2), 16));
            const a = hex(rdBu[i]);
            const b = hex(rdBu[i + 1]);
            return a.map((v, k) => Math.round(v + (b[k] - v) * (t - i)));
        }

        // paints the samples as a smooth image between the scale positions
        const heatImage = {
            id: 'heatImage',
            beforeDatasetsDraw(chart) {
                const cols = heatX.length;
                const rows = heatY.length;
                const cells = chart.data.datasets[0].data;
                const small = document.createElement('canvas');
                small.width = cols;
                small.height = rows;
                const smallCtx = small.getContext('2d');
                const pixels = smallCtx.createImageData(cols, rows);
                cells.forEach((cell, n) => {
                    const [r, g, b] = rdBuColor(cell.v);
                    pixels.data.set([r, g, b, 255], n * 4);
                });
                smallCtx.putImageData(pixels, 0, 0);
                const { ctx, scales: { x, y } } = chart;
                const left = x.getPixelForValue(heatX[0]);
                const right = x.getPixelForValue(heatX[cols - 1]);
                const top = y.getPixelForValue(heatY[0]);
                const bottom = y.getPixelForValue(heatY[rows - 1]);
                ctx.save();
                ctx.imageSmoothingEnabled = true;
                ctx.imageSmoothingQuality = 'high';
                ctx.drawImage(small, 0.5, 0.5, cols - 1, rows - 1, left, top, right - left, bottom - top);
                ctx.restore();
            }
        };

        function place(id, left, width) {
            const canvas = document.getElementById(id);
            canvas.width = width;
            canvas.height = 1238;
            canvas.style.left = left + 'px';
            return canvas;
        }

        const titleOptions = text => ({
            display: true,
            text,
            font: { size: 16.7, weight: 'normal' },
            color: '#000',
            padding: { top: 6.5, bottom: 3.1 }
        });

        const toXY = points => points.map(([x, y]) => ({ x, y }));

        new Chart(place('scatterChart', 0, 1590), {
            type: 'scatter',
            data: {
                datasets: [{
                    label: 'train',
                    data: toXY(trainPoints),
                    pointStyle: 'circle',
                    pointRadius: 5,
                    borderWidth: 0,
                    backgroundColor: '#ff0000',
                    borderColor: '#ff0000',
                    order: 2
                }, {
                    label: 'test',
                    data: toXY(testPoints),
                    pointStyle: 'crossRot',
                    pointRadius: 6,
                    borderWidth: 2,
                    backgroundColor: '#008000',
                    borderColor: '#008000',
                    order: 1
                }]
            },
            options: {
                layout: { padding: { top: 30, right: 33 } },
                scales: {
                    x: axis({ min: -3.83, max: 4.42, ticks: scatterXTicks, size: BOTTOM_BOX, position: 'bottom' }),
                    y: axis({ min: -3.54, max: 4.12, ticks: scatterYTicks, size: 40, position: 'left' })
                }
            },
            plugins: [spines, insideLegend]
        });

        new Chart(place('lossChart', 1800, 1637), {
            type: 'scatter',
            data: {
                datasets: [{
                    label: 'Training',
                    data: trainingLoss.map((y, i) => ({ x: i + 1, y })),
                    showLine: true,
                    pointRadius: 0,
                    borderWidth: 2.08,
                    borderColor: '#1f77b4',
                    backgroundColor: '#1f77b4',
                    order: 2
                }, {
                    label: 'Validation',
                    data: validationLoss.map((y, i) => ({ x: i + 1, y })),
                    showLine: true,
                    pointRadius: 0,
                    borderWidth: 2.08,
                    borderColor: '#ff7f0e',
                    backgroundColor: '#ff7f0e',
                    order: 1
                }]
            },
            options: {
                layout: { padding: { right: 60 } },
                plugins: { title: titleOptions('train curve of total loss') },
                scales: {
                    x: axis({ min: -23.35, max: 512.35, ticks: lossXTicks, size: BOTTOM_BOX, position: 'bottom', grid: true }),
                    y: axis({ min: -0.5996, max: 0.034, ticks: lossYTicks, digits: 1, size: 60, position: 'left', grid: true })
                }
            },
            plugins: [spines, insideLegend]
        });

        const heatCells = [];
        heatY.forEach((y, r) => heatX.forEach((x, c) => heatCells.push({ x, y, v: heatValues[r][c] })));

        new Chart(place('heatChart', 3618, 1335), {
            type: 'scatter',
            data: { datasets: [{ data: heatCells, pointRadius: 0 }] },
            options: {
                layout: { padding: { right: 60 } },
                plugins: { title: titleOptions('heatmap') },
                scales: {
                    x: axis({ min: -3.44, max: 4.05, ticks: heatXTicks, size: BOTTOM_BOX, position: 'bottom' }),
                    y: axis({ min: -3.18, max: 3.77, ticks: heatYTicks, size: 60, position: 'left' })
                }
            },
            plugins: [heatImage, spines]
        });

        new Chart(place('colorbarChart', 4968, 118), {
            type: 'bar',
            data: {
                labels: [''],
                datasets: [{
                    data: [[-colorbarLimit, colorbarLimit]],
                    barPercentage: 1,
                    categoryPercentage: 1,
                    backgroundColor: context => {
                        const area = context.chart.chartArea;
                        if (!area) return rdBu[5];
                        const gradient = context.chart.ctx.createLinearGradient(0, area.bottom, 0, area.top);
                        rdBu.forEach((color, i) => gradient.addColorStop(i / (rdBu.length - 1), color));
                        return gradient;
                    }
                }]
            },
            options: {
                layout: { padding: { top: 30, bottom: BOTTOM_BOX } },
                scales: {
                    x: { display: false },
                    y: axis({ min: -colorbarLimit, max: colorbarLimit, ticks: colorbarTicks, size: 60, position: 'right' })
                }
            },
            plugins: [spines]
        });

        new Chart(place('miChart', 5410, 1618), {
            type: 'scatter',
            data: {
                datasets: [{
                    label: 'Ground Truth',
                    data: rhoValues.map((x, i) => ({ x, y: groundTruth[i] })),
                    pointStyle: 'circle',
                    pointRadius: 4.2,
                    borderWidth: 1.4,
                    borderColor: '#ff0000',
                    backgroundColor: 'rgba(0,0,0,0)'
                }, {
                    label: 'MINE_direct_hidden_X_2',
                    data: rhoValues.map((x, i) => ({ x, y: mineEstimate[i] })),
                    pointStyle: 'circle',
                    pointRadius: 4.2,
                    borderWidth: 1.4,
                    borderColor: '#008000',
                    backgroundColor: 'rgba(0,0,0,0)'
                }]
            },
            options: {
                layout: { padding: { top: 30, right: 13 } },
                scales: {
                    x: axis({
                        min: -0.00218, max: 0.00218, ticks: miXTicks, digits: 4, size: BOTTOM_BOX, position: 'bottom',
                        title: { display: true, text: 'rho', color: '#000', padding: { top: 0, bottom: 8.6 } }
                    }),
                    y: axis({
                        min: 0.49062, max: 0.51452, ticks: miYTicks, digits: 3, size: 90, position: 'left',
                        title: { display: true, text: 'I(X^Y)', color: '#000', padding: { top: 17.6, bottom: 0 } }
                    })
                }
            },
            plugins: [spines, insideLegend]
        });
    </script>
</body>

</html>
